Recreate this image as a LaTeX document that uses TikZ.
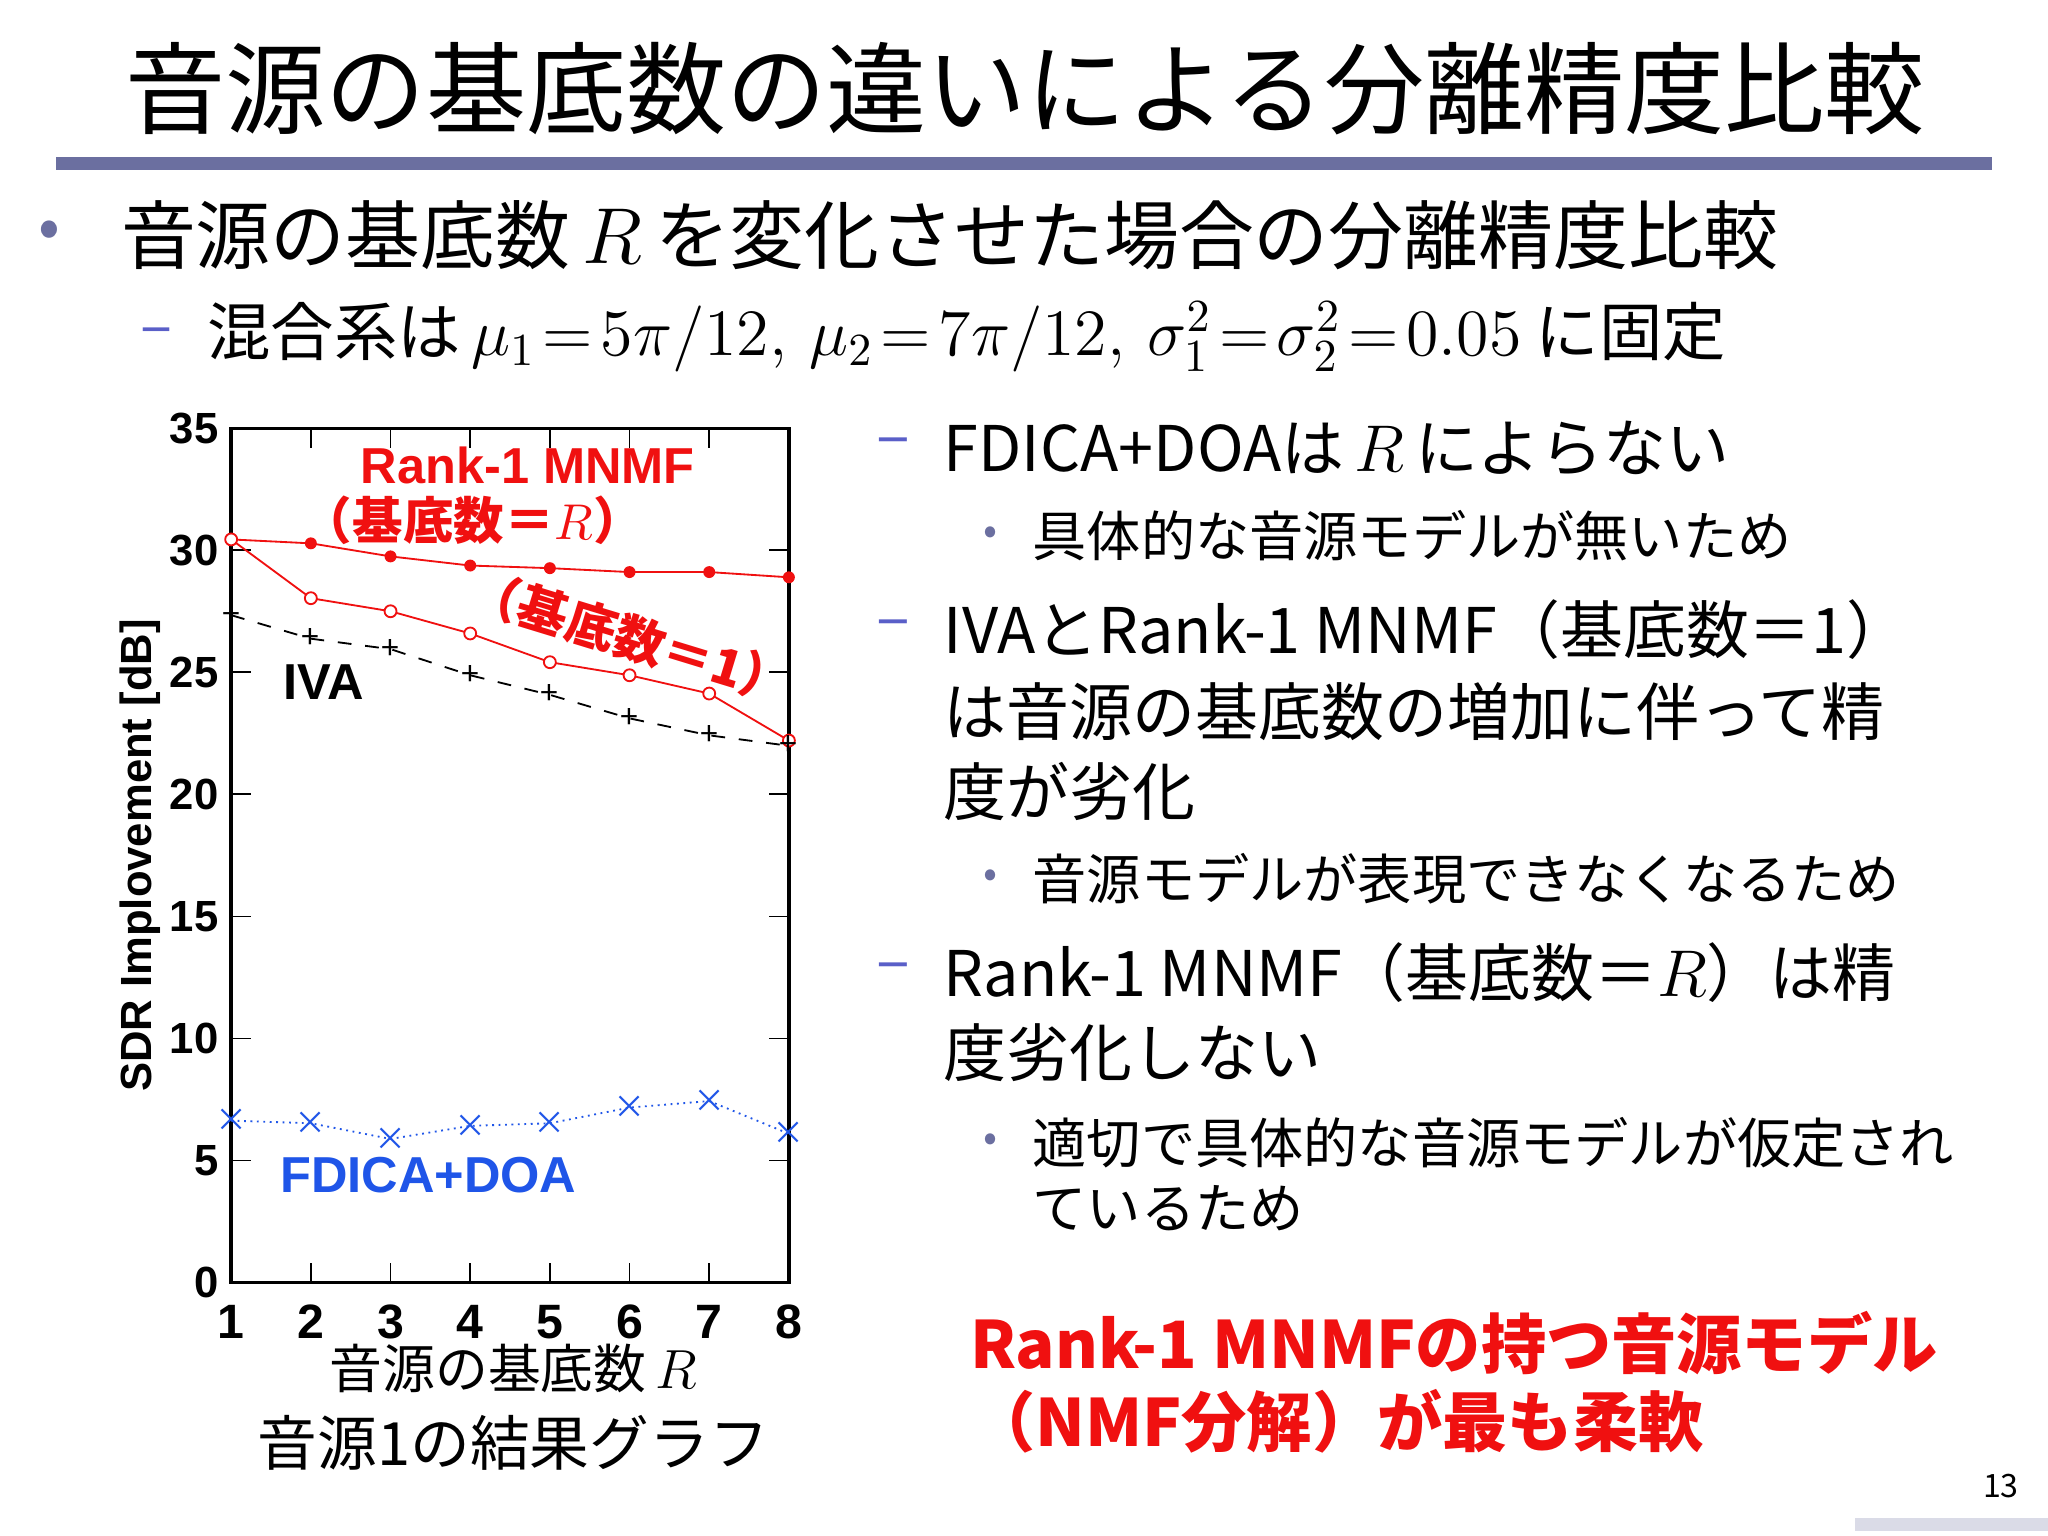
\documentclass[tikz,border=0pt]{standalone}
\usepackage{fontspec}
\setmainfont{Noto Sans CJK JP}
\newfontfamily\arial{Liberation Sans}
\definecolor{bar}{HTML}{6B6FA0}
\definecolor{dash}{HTML}{5A5FC8}
\definecolor{rd}{HTML}{F01010}
\definecolor{bl}{HTML}{1F55E8}
\begin{document}
\begin{tikzpicture}[x=0.01cm,y=-0.01cm,
  tx/.style={anchor=west,inner sep=0},
  lab/.style={font=\arial\bfseries\fontsize{9.5}{10}\selectfont,inner sep=0},
  mk/.style={circle,fill=rd,inner sep=0,minimum size=2.6pt},
  ok/.style={circle,draw=rd,inner sep=0,minimum size=2.6pt,thin}]
\useasboundingbox (0,0) rectangle (1568,1176);
\fill[white] (0,0) rectangle (1568,1176);
\node[inner sep=0] (title) at (785,68) {\fontsize{21.8}{23}\selectfont 音源の基底数の違いによる分離精度比較};
\fill[bar] (43,120) rectangle (1525,130);
\node[text=bar,inner sep=0] (b0) at (38,180) {\fontsize{14}{14}\selectfont •};
\node[tx] (t1) at (92,180) {\fontsize{16.3}{17}\selectfont 音源の基底数\,$R$\,を変化させた場合の分離精度比較};
\node[tx,text=dash] (d1) at (107,258) {\fontsize{13}{14}\selectfont –};
\node[tx] (t2) at (158,258) {\fontsize{13.8}{15}\selectfont 混合系は\,$\mu_1\!=\!5\pi/12,\,\mu_2\!=\!7\pi/12,\,\sigma_1^2\!=\!\sigma_2^2\!=\!0.05$ に固定};
\begin{scope}[every node/.style={tx,font=\fontsize{13.7}{14}\selectfont}]
\node[text=dash] (d2) at (670,343) {–};
\node (r1) at (722,343) {FDICA+DOAは\,$R$\,によらない};
\node[text=bar] (b1) at (752,410) {\fontsize{9}{9}\selectfont•};
\node (r2) at (790,410) {\fontsize{11.8}{12}\selectfont 具体的な音源モデルが無いため};
\node[text=dash] (d3) at (670,482) {–};
\node (r3) at (722,482) {IVAとRank-1 MNMF（基底数＝1）};
\node (r4) at (722,545) {は音源の基底数の増加に伴って精};
\node (r5) at (722,606) {度が劣化};
\node[text=bar] (b2) at (752,673) {\fontsize{9}{9}\selectfont•};
\node (r6) at (790,673) {\fontsize{11.8}{12}\selectfont 音源モデルが表現できなくなるため};
\node[text=dash] (d4) at (670,745) {–};
\node (r7) at (722,745) {Rank-1 MNMF（基底数＝$R$）は精};
\node (r8) at (722,806) {度劣化しない};
\node[text=bar] (b3) at (752,875) {\fontsize{9}{9}\selectfont•};
\node (r9) at (790,875) {\fontsize{11.8}{12}\selectfont 適切で具体的な音源モデルが仮定され};
\node (r10) at (790,925) {\fontsize{11.8}{12}\selectfont ているため};
\node[text=rd] (c1) at (742,1028) {\bfseries\fontsize{14.2}{15}\selectfont Rank-1 MNMFの持つ音源モデル};
\node[text=rd] (c2) at (742,1088) {\bfseries\fontsize{14.2}{15}\selectfont （NMF分解）が最も柔軟};
\end{scope}
\node[inner sep=0] (pg) at (1532,1138) {\fontsize{7}{8}\selectfont 13};
\fill[bar!25] (1420,1162) rectangle (1568,1172);
% plot
\draw[thick] (177,328) rectangle (604,982);
\foreach \v [count=\i from 0] in {0,5,...,35}{
  \pgfmathsetmacro{\yy}{982-18.69*\v}
  \draw (177,\yy) -- (192,\yy);
  \draw (604,\yy) -- (589,\yy);
  \node[lab,anchor=east] (yl\i) at (168,\yy) {\v};}
\foreach \k in {1,...,8}{
  \pgfmathsetmacro{\xx}{177+61*(\k-1)}
  \draw (\xx,982) -- (\xx,967);
  \draw (\xx,328) -- (\xx,343);
  \node[lab] (xl\k) at (\xx,1012) {\fontsize{10.5}{11}\selectfont\k};}
\node[lab,rotate=90] (yax) at (107,655) {SDR Implovement [dB]};
\node[inner sep=0] (xax) at (393,1048) {\fontsize{11.5}{12}\selectfont 音源の基底数\,$R$};
\node[inner sep=0] (cap) at (393,1105) {\fontsize{13}{14}\selectfont 音源1の結果グラフ};
% data
\draw[rd,thin] (177,413)--(238,416)--(299,426)--(360,433)--(421,435)--(482,438)--(543,438)--(604,442);
\foreach \x/\y in {177/413,238/416,299/426,360/433,421/435,482/438,543/438,604/442}
  \node[mk] at (\x,\y) {};
\draw[rd,thin] (177,413)--(238,458)--(299,468)--(360,485)--(421,507)--(482,517)--(543,531)--(604,567);
\foreach \x/\y in {177/413,238/458,299/468,360/485,421/507,482/517,543/531,604/567}
  \node[ok,fill=white] at (\x,\y) {};
\draw[black,dashed] (177,471)--(238,489)--(299,497)--(360,517)--(421,532)--(482,550)--(543,563)--(604,571);
\foreach \x/\y in {177/471,238/489,299/497,360/517,421/532,482/550,543/563,604/571}
  \node[inner sep=0] at (\x,\y) {\fontsize{7}{7}\selectfont +};
\draw[bl,densely dotted] (177,858)--(238,860)--(299,872)--(360,862)--(421,860)--(482,848)--(543,843)--(604,868);
\foreach \x/\y in {177/858,238/860,299/872,360/862,421/860,482/848,543/843,604/868}
  \node[inner sep=0,text=bl] at (\x,\y) {\fontsize{7}{7}\selectfont ×};
% plot labels
\node[lab,text=rd] (l1) at (404,356) {\fontsize{11}{12}\selectfont Rank-1 MNMF};
\node[inner sep=0,text=rd] (l2) at (362,398) {\bfseries\fontsize{11}{12}\selectfont （基底数＝$R$）};
\node[inner sep=0,text=rd,rotate=-17] (l3) at (483,488) {\bfseries\fontsize{11}{12}\selectfont （基底数＝1）};
\node[lab] (l4) at (248,522) {\fontsize{11}{12}\selectfont IVA};
\node[lab,text=bl] (l5) at (328,900) {\fontsize{11}{12}\selectfont FDICA+DOA};
\end{tikzpicture}
\end{document}
